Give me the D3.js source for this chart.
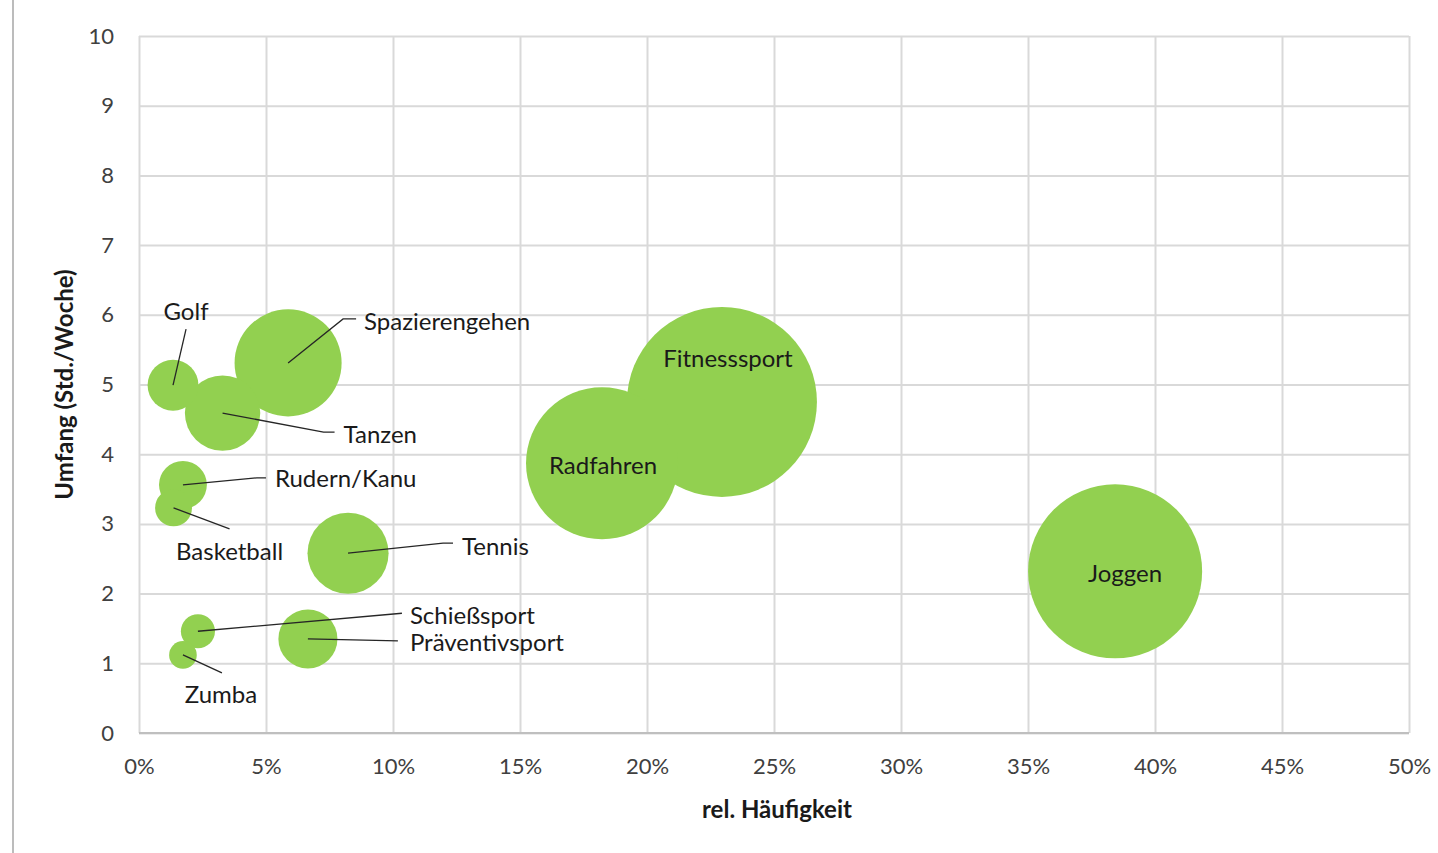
<!DOCTYPE html>
<html>
<head>
<meta charset="utf-8">
<script src="https://cdn.jsdelivr.net/npm/d3@7"></script>
<style>
  body { margin: 0; background: #fff; }
  svg text { font-family: Lato, "Open Sans", sans-serif; fill: #1a1a1a; }
</style>
</head>
<body>
<div id="chart"></div>
<script>
// sports, rel. frequency (%), hours per week, bubble size
var sports = ["Fitnesssport", "Joggen", "Radfahren", "Spazierengehen", "Tennis", "Tanzen",
              "Präventivsport", "Golf", "Rudern/Kanu", "Basketball", "Schießsport", "Zumba"];
var frequency = [22.95, 38.43, 18.23, 5.87, 8.23, 3.29, 6.65, 1.34, 1.73, 1.36, 2.32, 1.73];
var hours = [4.75, 2.32, 3.87, 5.31, 2.58, 4.59, 1.35, 4.99, 3.56, 3.23, 1.46, 1.12];
var volume = [108.7, 91.2, 69.6, 34.5, 19.8, 17.1, 10.5, 7.8, 6.9, 4.1, 3.5, 2.3];

var xTicks = [0, 5, 10, 15, 20, 25, 30, 35, 40, 45, 50];
var yTicks = [0, 1, 2, 3, 4, 5, 6, 7, 8, 9, 10];

// label placement relative to bubble centre (px): text offset, anchor, leader line points
var labelLayout = {
  "Fitnesssport":   { dx: 6,   dy: -44, anchor: "middle", leader: null },
  "Joggen":         { dx: 10,  dy: 1,   anchor: "middle", leader: null },
  "Radfahren":      { dx: 1,   dy: 1,   anchor: "middle", leader: null },
  "Spazierengehen": { dx: 76,  dy: -42, anchor: "start",  leader: [[55, -44], [68, -44]] },
  "Tennis":         { dx: 114, dy: -8,  anchor: "start",  leader: [[95, -10], [105, -10]] },
  "Tanzen":         { dx: 121, dy: 20,  anchor: "start",  leader: [[101, 19], [112, 19]] },
  "Präventivsport": { dx: 102, dy: 3,   anchor: "start",  leader: [[90, 2]] },
  "Golf":           { dx: 13,  dy: -75, anchor: "middle", leader: [[13, -56]] },
  "Rudern/Kanu":    { dx: 92,  dy: -7,  anchor: "start",  leader: [[74, -7], [83, -7]] },
  "Basketball":     { dx: 56,  dy: 43,  anchor: "middle", leader: [[56, 21]] },
  "Schießsport":    { dx: 212, dy: -17, anchor: "start",  leader: [[204, -18]] },
  "Zumba":          { dx: 38,  dy: 39,  anchor: "middle", leader: [[39, 18]] }
};

var data = sports.map(function(s, i) {
  return { name: s, x: frequency[i], y: hours[i], size: volume[i] };
});

var width = 1438, height = 853;
var margin = { top: 36, right: 29, bottom: 120, left: 139 };
var w = width - margin.left - margin.right;
var h = height - margin.top - margin.bottom;

var svg = d3.select("#chart").append("svg")
  .attr("width", width)
  .attr("height", height);

// thin frame line on the left
svg.append("line")
  .attr("x1", 13).attr("x2", 13)
  .attr("y1", 0).attr("y2", height)
  .attr("stroke", "#a6a6a6").attr("stroke-width", 1.5);

var xScale = d3.scaleLinear().domain([0, 50]).range([0, w]);
var yScale = d3.scaleLinear().domain([0, 10]).range([h, 0]);
var rScale = d3.scaleSqrt().domain([0, d3.max(volume)]).range([0, 95]);

var g = svg.append("g")
  .attr("transform", "translate(" + margin.left + "," + margin.top + ")");

// grid
g.append("g")
  .attr("class", "grid-x")
  .attr("transform", "translate(0," + h + ")")
  .call(d3.axisBottom(xScale).tickValues(xTicks).tickSize(-h).tickFormat(""))
  .call(function(a) { a.select(".domain").remove(); })
  .selectAll("line").attr("stroke", "#d9d9d9").attr("stroke-width", 2);

g.append("g")
  .attr("class", "grid-y")
  .call(d3.axisLeft(yScale).tickValues(yTicks).tickSize(-w).tickFormat(""))
  .call(function(a) { a.select(".domain").remove(); })
  .selectAll("line").attr("stroke", "#d9d9d9").attr("stroke-width", 2);

// axis baseline
g.append("line")
  .attr("x1", 0).attr("x2", w)
  .attr("y1", h).attr("y2", h)
  .attr("stroke", "#bfbfbf").attr("stroke-width", 2);

// tick labels
var xAxis = g.append("g")
  .attr("transform", "translate(0," + h + ")")
  .call(d3.axisBottom(xScale).tickValues(xTicks).tickSize(0).tickPadding(25)
    .tickFormat(function(d) { return d + "%"; }));
xAxis.select(".domain").remove();
xAxis.selectAll("text").style("font-size", "22px").style("fill", "#404040");

var yAxis = g.append("g")
  .call(d3.axisLeft(yScale).tickValues(yTicks).tickSize(0).tickPadding(25));
yAxis.select(".domain").remove();
yAxis.selectAll("text").style("font-size", "22px").style("fill", "#404040");

// axis titles
svg.append("text")
  .attr("x", margin.left + w / 2 + 3)
  .attr("y", 818)
  .attr("text-anchor", "middle")
  .style("font-size", "24px").style("font-weight", "bold")
  .text("rel. Häufigkeit");

svg.append("text")
  .attr("transform", "translate(73," + (margin.top + h / 2) + ") rotate(-90)")
  .attr("text-anchor", "middle")
  .style("font-size", "24px").style("font-weight", "bold")
  .text("Umfang (Std./Woche)");

// bubbles, largest first
var sorted = data.slice().sort(function(a, b) { return b.size - a.size; });

g.selectAll(".bubble")
  .data(sorted)
  .enter().append("circle")
  .attr("class", "bubble")
  .attr("cx", function(d) { return xScale(d.x); })
  .attr("cy", function(d) { return yScale(d.y); })
  .attr("r", function(d) { return rScale(d.size); })
  .attr("fill", "#92d050");

// leader lines
g.selectAll(".leader")
  .data(data.filter(function(d) { return labelLayout[d.name].leader; }))
  .enter().append("polyline")
  .attr("class", "leader")
  .attr("fill", "none")
  .attr("stroke", "#262626")
  .attr("stroke-width", 1.3)
  .attr("points", function(d) {
    var cx = xScale(d.x), cy = yScale(d.y);
    var pts = [[cx, cy]].concat(labelLayout[d.name].leader.map(function(p) {
      return [cx + p[0], cy + p[1]];
    }));
    return pts.map(function(p) { return p.join(","); }).join(" ");
  });

// labels
g.selectAll(".label")
  .data(data)
  .enter().append("text")
  .attr("class", "label")
  .attr("x", function(d) { return xScale(d.x) + labelLayout[d.name].dx; })
  .attr("y", function(d) { return yScale(d.y) + labelLayout[d.name].dy; })
  .attr("text-anchor", function(d) { return labelLayout[d.name].anchor; })
  .attr("dominant-baseline", "central")
  .style("font-size", "24px")
  .text(function(d) { return d.name; });
</script>
</body>
</html>
